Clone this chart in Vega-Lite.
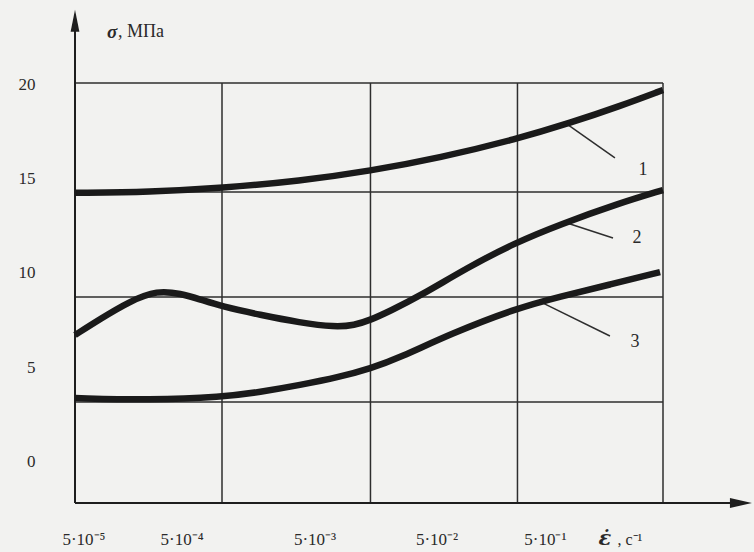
{
  "$schema": "https://vega.github.io/schema/vega-lite/v6.json",
  "width": 588,
  "height": 420,
  "autosize": {"type": "none"},
  "padding": {"left": 75, "top": 83, "right": 91, "bottom": 49},
  "background": "#f2f2f0",
  "config": {"view": {"stroke": null}},
  "datasets": {
    "grid": [
      {"x": 0, "x2": 4, "y": 20.1, "y2": 20.1},
      {"x": 0, "x2": 4, "y": 14.31, "y2": 14.31},
      {"x": 0, "x2": 4, "y": 8.72, "y2": 8.72},
      {"x": 0, "x2": 4, "y": 3.14, "y2": 3.14},
      {"x": 1, "x2": 1, "y": -2.23, "y2": 20.1},
      {"x": 2.01, "x2": 2.01, "y": -2.23, "y2": 20.1},
      {"x": 3.01, "x2": 3.01, "y": -2.23, "y2": 20.1},
      {"x": 4, "x2": 4, "y": -2.23, "y2": 20.1}
    ],
    "axes": [
      {"x": 0, "x2": 0, "y": -2.23, "y2": 23.3},
      {"x": 0, "x2": 4.5, "y": -2.23, "y2": -2.23}
    ],
    "leaders": [
      {"x": 3.354, "x2": 3.673, "y": 17.87, "y2": 16.12},
      {"x": 3.347, "x2": 3.66, "y": 12.66, "y2": 11.86},
      {"x": 3.184, "x2": 3.639, "y": 8.4, "y2": 6.65}
    ],
    "curves": [
      {"curve": "1", "x": 0, "y": 14.26},
      {"curve": "1", "x": 0.51, "y": 14.31},
      {"curve": "1", "x": 1.0, "y": 14.52},
      {"curve": "1", "x": 1.53, "y": 14.89},
      {"curve": "1", "x": 2.01, "y": 15.43},
      {"curve": "1", "x": 2.48, "y": 16.12},
      {"curve": "1", "x": 3.01, "y": 17.13},
      {"curve": "1", "x": 3.37, "y": 17.98},
      {"curve": "1", "x": 3.71, "y": 18.88},
      {"curve": "1", "x": 4.0, "y": 19.73},
      {"curve": "2", "x": 0, "y": 6.7},
      {"curve": "2", "x": 0.17, "y": 7.55},
      {"curve": "2", "x": 0.374, "y": 8.5},
      {"curve": "2", "x": 0.56, "y": 9.08},
      {"curve": "2", "x": 0.72, "y": 8.9},
      {"curve": "2", "x": 0.85, "y": 8.6},
      {"curve": "2", "x": 1.0, "y": 8.22},
      {"curve": "2", "x": 1.259, "y": 7.77},
      {"curve": "2", "x": 1.53, "y": 7.36},
      {"curve": "2", "x": 1.769, "y": 7.12},
      {"curve": "2", "x": 1.9, "y": 7.22},
      {"curve": "2", "x": 2.01, "y": 7.5},
      {"curve": "2", "x": 2.143, "y": 7.98},
      {"curve": "2", "x": 2.347, "y": 8.78},
      {"curve": "2", "x": 2.673, "y": 10.3},
      {"curve": "2", "x": 2.993, "y": 11.6},
      {"curve": "2", "x": 3.299, "y": 12.58},
      {"curve": "2", "x": 3.707, "y": 13.72},
      {"curve": "2", "x": 4.0, "y": 14.41},
      {"curve": "3", "x": 0, "y": 3.35},
      {"curve": "3", "x": 0.51, "y": 3.24},
      {"curve": "3", "x": 1.0, "y": 3.4},
      {"curve": "3", "x": 1.259, "y": 3.67},
      {"curve": "3", "x": 1.53, "y": 4.04},
      {"curve": "3", "x": 1.8, "y": 4.47},
      {"curve": "3", "x": 2.01, "y": 4.92},
      {"curve": "3", "x": 2.21, "y": 5.5},
      {"curve": "3", "x": 2.55, "y": 6.75},
      {"curve": "3", "x": 2.993, "y": 8.1},
      {"curve": "3", "x": 3.299, "y": 8.75},
      {"curve": "3", "x": 3.639, "y": 9.38},
      {"curve": "3", "x": 3.98, "y": 10.05}
    ],
    "xlabels": [
      {"x": 0.061, "y": -4.2, "text": "5·10⁻⁵"},
      {"x": 0.728, "y": -4.2, "text": "5·10⁻⁴"},
      {"x": 1.633, "y": -4.2, "text": "5·10⁻³"},
      {"x": 2.463, "y": -4.2, "text": "5·10⁻²"},
      {"x": 3.2, "y": -4.2, "text": "5·10⁻¹"}
    ],
    "numbers": [
      {"x": 3.864, "y": 15.48, "text": "1"},
      {"x": 3.823, "y": 11.86, "text": "2"},
      {"x": 3.81, "y": 6.33, "text": "3"}
    ],
    "arrowUp": [{"x": 0, "y": 24.0}],
    "arrowRight": [{"x": 4.605, "y": -2.23}],
    "sigma": [{"x": 0.218, "y": 22.82, "text": "σ"}],
    "units": [{"x": 0.292, "y": 22.82, "text": ", МПа"}],
    "eps": [{"x": 3.605, "y": -4.15, "text": "ε̇"}],
    "epsunit": [{"x": 3.69, "y": -4.2, "text": ", с⁻¹"}]
  },
  "encoding": {
    "x": {"field": "x", "type": "quantitative", "scale": {"domain": [0, 4], "nice": false, "zero": false}, "axis": null},
    "y": {"field": "y", "type": "quantitative", "scale": {"domain": [-2.23, 20.1], "nice": false, "zero": false},
      "axis": {"values": [0, 5, 10, 15, 20], "ticks": false, "domain": false, "grid": false, "title": null,
        "labelFont": "Liberation Serif", "labelFontSize": 17, "labelColor": "#2a2a2a", "labelPadding": 40}}
  },
  "layer": [
    {"data": {"name": "grid"}, "mark": {"type": "rule", "color": "#2e2e2e", "strokeWidth": 1.5, "clip": false},
      "encoding": {"x2": {"field": "x2"}, "y2": {"field": "y2"}}},
    {"data": {"name": "axes"}, "mark": {"type": "rule", "color": "#1e1e1e", "strokeWidth": 2, "clip": false},
      "encoding": {"x2": {"field": "x2"}, "y2": {"field": "y2"}}},
    {"data": {"name": "leaders"}, "mark": {"type": "rule", "color": "#2e2e2e", "strokeWidth": 1.5, "clip": false},
      "encoding": {"x2": {"field": "x2"}, "y2": {"field": "y2"}}},
    {"data": {"name": "curves"}, "mark": {"type": "line", "color": "#1a1a1a", "strokeWidth": 6.5, "interpolate": "basis", "strokeCap": "butt", "clip": false},
      "encoding": {"detail": {"field": "curve", "type": "nominal"}}},
    {"data": {"name": "arrowUp"}, "mark": {"type": "point", "shape": "M0,0L0.4,2L-0.4,2Z", "size": 484, "filled": true, "color": "#1e1e1e", "opacity": 1, "clip": false}},
    {"data": {"name": "arrowRight"}, "mark": {"type": "point", "shape": "M0,0L-2,-0.45L-2,0.45Z", "size": 484, "filled": true, "color": "#1e1e1e", "opacity": 1, "clip": false}},
    {"data": {"name": "xlabels"}, "mark": {"type": "text", "font": "Liberation Serif", "fontSize": 17, "color": "#2a2a2a", "align": "center", "baseline": "middle", "clip": false},
      "encoding": {"text": {"field": "text"}}},
    {"data": {"name": "numbers"}, "mark": {"type": "text", "font": "Liberation Serif", "fontSize": 18, "color": "#2a2a2a", "align": "center", "baseline": "middle", "clip": false},
      "encoding": {"text": {"field": "text"}}},
    {"data": {"name": "sigma"}, "mark": {"type": "text", "font": "Liberation Serif", "fontSize": 19, "fontStyle": "italic", "fontWeight": "bold", "color": "#2a2a2a", "align": "left", "baseline": "middle", "clip": false},
      "encoding": {"text": {"field": "text"}}},
    {"data": {"name": "units"}, "mark": {"type": "text", "font": "Liberation Serif", "fontSize": 18, "color": "#2a2a2a", "align": "left", "baseline": "middle", "clip": false},
      "encoding": {"text": {"field": "text"}}},
    {"data": {"name": "eps"}, "mark": {"type": "text", "font": "DejaVu Serif", "fontSize": 21, "fontStyle": "italic", "fontWeight": "bold", "color": "#2a2a2a", "align": "center", "baseline": "middle", "clip": false},
      "encoding": {"text": {"field": "text"}}},
    {"data": {"name": "epsunit"}, "mark": {"type": "text", "font": "Liberation Serif", "fontSize": 16, "color": "#2a2a2a", "align": "left", "baseline": "middle", "clip": false},
      "encoding": {"text": {"field": "text"}}}
  ]
}
